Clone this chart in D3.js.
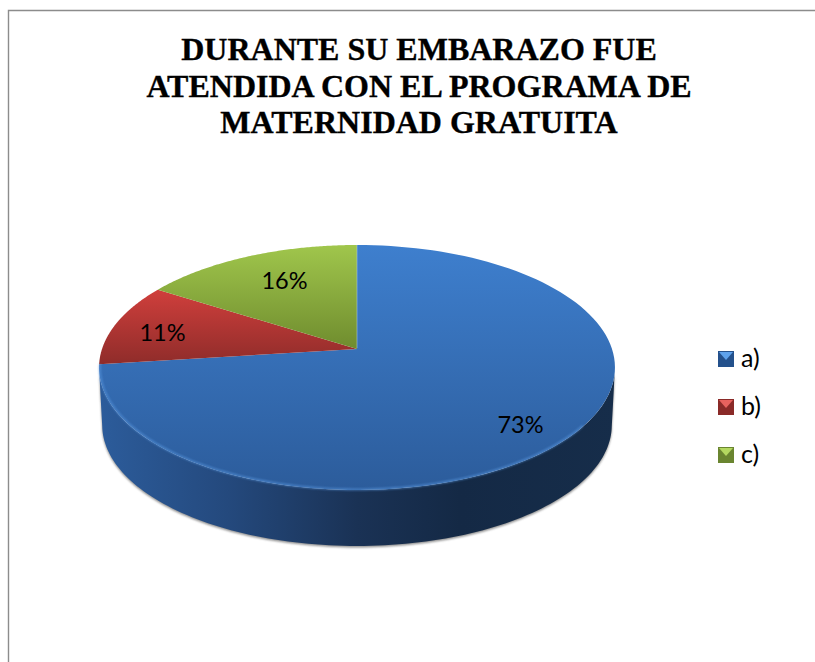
<!DOCTYPE html>
<html><head><meta charset="utf-8">
<script src="https://cdn.jsdelivr.net/npm/d3@7"></script>
<style>html,body{margin:0;padding:0;background:#fff}svg{display:block}</style>
</head><body><svg id="c" width="815" height="662"></svg>
<script>
const titleLines = ["DURANTE SU EMBARAZO FUE","ATENDIDA CON EL PROGRAMA DE","MATERNIDAD GRATUITA"];
const categories = ["a)","b)","c)"];
const values = [73,11,16];
const labels = ["73%","11%","16%"];
const topColors = ["#3e7fce","#d03f3c","#a0c64c"];
const bottomColors = ["#2c5c9b","#8f2c2a","#6f8c2e"];
const legendLight = ["#5ea2ec","#e8625e","#b4d860"];
const legendDark = ["#24518c","#8a2a28","#6a8530"];

const svg = d3.select("#c");
const defs = svg.append("defs");

// Tilted circle: perspective projection of the pie's plane
const apexX=357, apexY=349, R=255, S=119.7, P=0.151, depth=58;
const project=(a,r=1,dy=0)=>{
  const u=Math.sin(a)*r, v=Math.cos(a)*r, w=1+P*v;
  return [apexX+R*u/w, apexY-S*v/w+dy];
};
const line=d3.line();
const steps=(a0,a1,n=120)=>d3.range(n+1).map(i=>a0+(a1-a0)*i/n);

const blur=(id,s)=>defs.append("filter").attr("id",id)
  .attr("x","-20%").attr("y","-20%").attr("width","140%").attr("height","140%")
  .append("feGaussianBlur").attr("stdDeviation",s);
blur("sh",1.3); blur("rim",.8);

categories.forEach((c,i)=>{
  const g=defs.append("linearGradient").attr("id","face"+i).attr("x1",0).attr("y1",0).attr("x2",0).attr("y2",1);
  g.append("stop").attr("offset",0).attr("stop-color",topColors[i]);
  g.append("stop").attr("offset",1).attr("stop-color",bottomColors[i]);
});
const sideGrad=defs.append("linearGradient").attr("id","side").attr("x1",0).attr("y1",0).attr("x2",1).attr("y2",0);
[[0,"#2c5c9b"],[.25,"#24497d"],[.5,"#1a3255"],[.7,"#142945"],[1,"#162d4a"]].forEach(s=>
  sideGrad.append("stop").attr("offset",s[0]).attr("stop-color",s[1]));

// frame
svg.append("path").attr("d",line([[815,10.5],[8.5,10.5],[8.5,662]]))
  .attr("fill","none").attr("stroke","#8c8c8c").attr("stroke-width",1.4);

// title
svg.append("g").selectAll("text").data(titleLines).join("text")
  .attr("x",419).attr("y",(d,i)=>60+i*36.5)
  .attr("text-anchor","middle")
  .attr("font-family","'Liberation Serif'").attr("font-weight","bold")
  .attr("font-size",32).attr("fill","#000")
  .attr("stroke","#000").attr("stroke-width",.35).text(d=>d);

// pie
const pie=d3.pie().sort(null)(values);
const sideA0=Math.PI*0.55, sideA1=Math.PI*1.45;
const sidePts=steps(sideA0,sideA1).map(a=>project(a))
  .concat(steps(sideA1,sideA0).map(a=>project(a,.988,depth)));
svg.append("path").attr("d",line(sidePts)+"Z").attr("fill","#444").attr("opacity",.6)
  .attr("filter","url(#sh)").attr("transform","translate(0,1.5)");
svg.append("path").attr("d",line(sidePts)+"Z").attr("fill","url(#side)");

const faces=svg.append("g");
faces.selectAll("path").data(pie).join("path")
  .attr("d",d=>line([[apexX,apexY],...steps(d.startAngle,d.endAngle).map(a=>project(a))])+"Z")
  .attr("fill",(d,i)=>`url(#face${i})`);

// bevel on the rim of the front slice
const rim=steps(Math.PI*0.7,pie[0].endAngle);
svg.append("path").attr("d",line(rim.map(a=>project(a,.997))))
  .attr("fill","none").attr("stroke","#5a98e0").attr("stroke-width",1.6)
  .attr("filter","url(#rim)").attr("opacity",.8);
svg.append("path").attr("d",line([[apexX,apexY-1],project(0)]))
  .attr("stroke","#a9c6e6").attr("stroke-width",.8).attr("opacity",.7);

// percentage labels
const labelPos=[[520.5,425],[162.5,333],[284.5,281]];
svg.append("g").selectAll("text").data(labels).join("text")
  .attr("x",(d,i)=>labelPos[i][0]).attr("y",(d,i)=>labelPos[i][1]+8)
  .attr("text-anchor","middle").attr("font-family","Lato")
  .attr("font-size",23.5).attr("fill","#000").text(d=>d);

// legend
const legY=d3.scalePoint().domain(categories).range([351,447]);
const leg=svg.append("g").selectAll("g").data(categories).join("g")
  .attr("transform",d=>`translate(718,${legY(d)})`);
leg.append("rect").attr("width",16).attr("height",16)
  .attr("fill",(d,i)=>legendDark[i]);
leg.append("path").attr("d",line([[1,1],[15,1],[8,9]])+"Z")
  .attr("fill",(d,i)=>legendLight[i]);
leg.append("text").attr("x",23).attr("y",16).attr("font-family","Lato")
  .attr("font-size",25).attr("fill","#000").text(d=>d);
</script></body></html>
